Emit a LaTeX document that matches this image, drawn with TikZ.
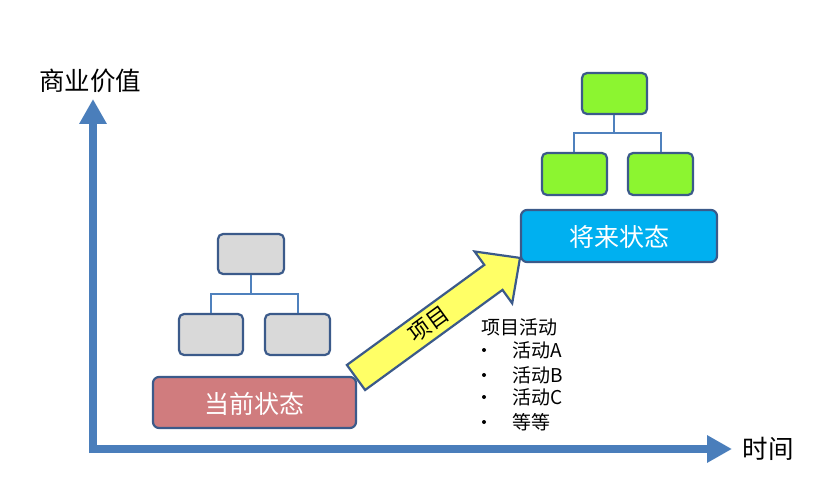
\documentclass[tikz,border=0pt]{standalone}
\usepackage{fontspec}
\setmainfont{Noto Sans CJK SC}
\usetikzlibrary{arrows.meta}
\definecolor{axisblue}{HTML}{4A7EBB}
\definecolor{edgeblue}{HTML}{3B5A8A}
\definecolor{linkblue}{HTML}{4F81BD}
\definecolor{boxgray}{HTML}{D9D9D9}
\definecolor{boxgreen}{HTML}{8CF530}
\definecolor{nowred}{HTML}{D07C7E}
\definecolor{futblue}{HTML}{00B0F0}
\definecolor{arrowyellow}{HTML}{FFFF66}
\tikzset{
  orgbox/.style={draw=edgeblue, line width=2.2pt, rounded corners=5pt},
  statebox/.style={draw=edgeblue, line width=2.2pt, rounded corners=6pt},
  statetext/.style={text=white, font=\fontsize{25}{28}\selectfont},
  link/.style={draw=linkblue, line width=2pt},
  axis/.style={draw=axisblue, line width=8pt, -{Triangle[width=26pt,length=25pt]}},
  axlabel/.style={font=\fontsize{25.5}{28}\selectfont},
  actlabel/.style={font=\fontsize{19}{22}\selectfont, anchor=west, inner sep=0pt},
  bulletdot/.style={circle, fill=black, inner sep=0pt, minimum size=4pt},
}
\begin{document}
\begin{tikzpicture}[x=1pt,y=-1pt]
\useasboundingbox (0,0) rectangle (833,492);
% axes
\coordinate (ybase) at (93,453);
\coordinate (xbase) at (89,449);
\coordinate (ytip) at (93,99);
\coordinate (xtip) at (732,449);
\draw[axis] (ybase) -- (ytip);
\draw[axis] (xbase) -- (xtip);
\node[axlabel] (yl) at (90,81) {商业价值};
\node[axlabel] (xl) at (768,449) {时间};

% current state
\draw[orgbox, fill=boxgray] (218,234) rectangle (284,274);
\draw[orgbox, fill=boxgray] (179,314) rectangle (243,355);
\draw[orgbox, fill=boxgray] (265,314) rectangle (330,355);
\coordinate (gt) at (251,275);
\coordinate (gm) at (251,294);
\coordinate (gl) at (211,313);
\coordinate (gr) at (298,313);
\draw[link] (gt) -- (gm);
\draw[link] (gl) |- (gm) -| (gr);
\draw[statebox, fill=nowred] (153,377) rectangle (356,428);
\node[statetext] (now) at (254.5,404) {当前状态};

% future state
\draw[orgbox, fill=boxgreen] (582,73) rectangle (647,114);
\draw[orgbox, fill=boxgreen] (542,153) rectangle (607,195);
\draw[orgbox, fill=boxgreen] (628,153) rectangle (693,195);
\coordinate (ft) at (614,115);
\coordinate (fm) at (614,133);
\coordinate (fl) at (574,152);
\coordinate (fr) at (661,152);
\draw[link] (ft) -- (fm);
\draw[link] (fl) |- (fm) -| (fr);
\draw[statebox, fill=futblue] (521,210) rectangle (717,262);
\node[statetext] (fut) at (619,237) {将来状态};

% project arrow
\draw[draw=edgeblue, line width=2.2pt, fill=arrowyellow, line join=miter]
  (346.9,365.0) -- (484.3,264.9) -- (474.6,251.5) -- (520,257.9)
  -- (512.2,303.3) -- (502.5,289.9) -- (365.1,390.0) -- cycle;
\node[rotate=36, inner sep=0pt, font=\fontsize{22}{24}\selectfont] (proj) at (429,324) {项目};

% activities
\node[actlabel] (acts) at (481,327) {项目活动};
\foreach \yy/\tt [count=\i] in {350/活动A, 375/活动B, 397/活动C, 422/等等}{
  \node[bulletdot] (b\i) at (484,\yy) {};
  \node[actlabel] (a\i) at (512,\yy) {\tt};
}
\end{tikzpicture}
\end{document}
